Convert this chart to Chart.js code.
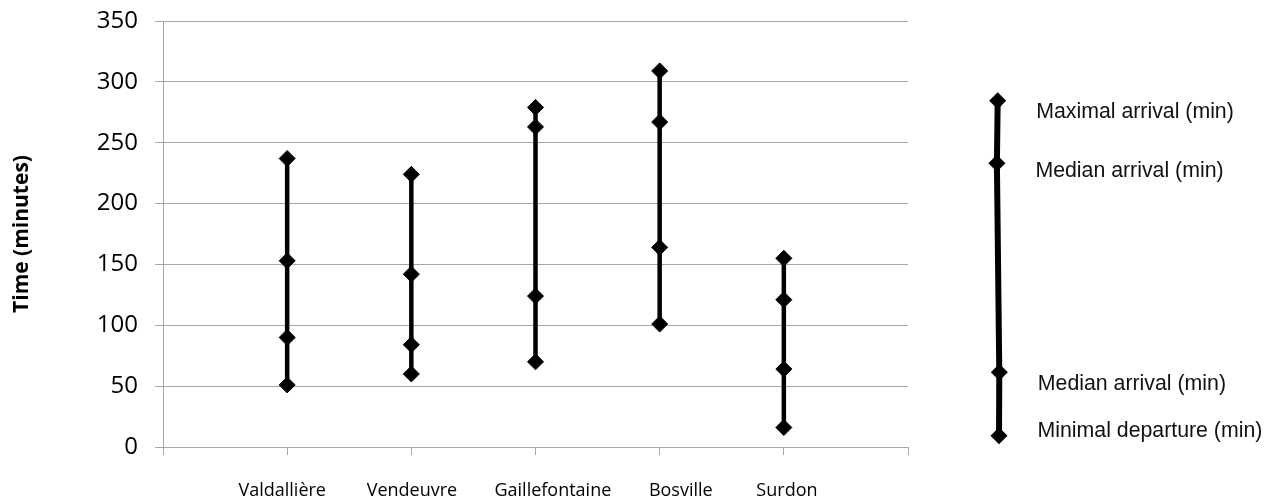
<!DOCTYPE html>
<html>
<head>
<meta charset="utf-8">
<script src="https://cdn.jsdelivr.net/npm/chart.js@4/dist/chart.umd.min.js"></script>
<style>
html,body{margin:0;padding:0;background:#fff;}
#wrap{width:1283px;height:504px;position:relative;}
canvas{display:block;}
</style>
</head>
<body>
<div id="wrap"><canvas id="c" width="1283" height="504"></canvas></div>
<script>
// ---- data ----
const categories = ['Valdallière', 'Vendeuvre', 'Gaillefontaine', 'Bosville', 'Surdon'];
const maximalArrival   = [237, 224, 279, 309, 155];
const medianArrivalA   = [153, 142, 263, 267, 121];
const medianArrivalB   = [90, 84, 124, 164, 64];
const minimalDeparture = [51, 60, 70, 101, 16];
const seriesNames = ['Maximal arrival (min)', 'Median arrival (min)', 'Median arrival (min)', 'Minimal departure (min)'];
const yTickValues = [0, 50, 100, 150, 200, 250, 300, 350];
const yTitle = 'Time (minutes)';

// ---- layout / style (not data) ----
const GRID = '#a6a6a6';
const LABEL_POS = [0.96, 2.005, 3.14, 4.17, 5.025]; // category label placement on x axis
const series = [maximalArrival, medianArrivalA, medianArrivalB, minimalDeparture];

const datasets = categories.map((name, i) => ({
  label: name,
  data: series.map(s => ({ x: i + 1, y: s[i] })),
  borderColor: '#000',
  backgroundColor: '#000',
  borderWidth: 4.5,
  pointStyle: 'rectRot',
  pointRadius: 8,
  pointBorderWidth: 1,
  pointBackgroundColor: '#000',
  pointBorderColor: '#000',
  showLine: true,
  tension: 0
}));

const customLegend = {
  id: 'customLegend',
  afterDraw(chart) {
    const ctx = chart.ctx;
    const pts = [[997.7, 100.7], [996.9, 163.3], [999.3, 372.3], [999.0, 435.7]];
    const base = [117.7, 176.5, 390, 437];
    ctx.save();
    ctx.strokeStyle = '#000';
    ctx.lineWidth = 6;
    ctx.beginPath();
    ctx.moveTo(pts[0][0], pts[0][1]);
    for (let k = 1; k < pts.length; k++) ctx.lineTo(pts[k][0], pts[k][1]);
    ctx.stroke();
    ctx.fillStyle = '#000';
    pts.forEach(([x, y]) => {
      const r = 8.5;
      ctx.beginPath();
      ctx.moveTo(x, y - r); ctx.lineTo(x + r, y); ctx.lineTo(x, y + r); ctx.lineTo(x - r, y);
      ctx.closePath(); ctx.fill();
    });
    ctx.font = '21.3px "Liberation Sans", Arial, sans-serif';
    ctx.textBaseline = 'alphabetic';
    ctx.textAlign = 'left';
    ctx.fillStyle = '#111';
    seriesNames.forEach((t, k) => {
      ctx.fillText(t, pts[k][0] + 38.5, base[k]);
    });
    ctx.restore();
  }
};

new Chart(document.getElementById('c'), {
  type: 'line',
  data: { datasets },
  plugins: [customLegend],
  options: {
    responsive: false,
    animation: false,
    devicePixelRatio: 1,
    layout: { padding: { top: 21, right: 375, left: 0, bottom: 0 } },
    plugins: { legend: { display: false }, tooltip: { enabled: false } },
    scales: {
      x: {
        type: 'linear', position: 'bottom', min: 0, max: 6,
        afterBuildTicks: s => { s.ticks = [0, 1, 2, 3, 4, 5, 6].map(v => ({ value: v })); },
        ticks: { display: false },
        grid: { drawOnChartArea: false, drawTicks: true, tickLength: 8, color: GRID, lineWidth: 1 },
        border: { color: GRID, width: 1 },
        afterFit: s => { s.height = 8; s.paddingLeft = 0; s.paddingRight = 0; }
      },
      xl: {
        type: 'linear', position: 'bottom', min: 0, max: 6,
        afterBuildTicks: s => { s.ticks = LABEL_POS.map(v => ({ value: v })); },
        ticks: {
          autoSkip: false, maxRotation: 0, minRotation: 0, padding: 25,
          color: '#000', font: { family: '"Open Sans", sans-serif', size: 18 },
          callback: (v, i) => categories[i]
        },
        grid: { display: false, drawTicks: false },
        border: { display: false },
        afterFit: s => { s.height = 49; s.paddingLeft = 0; s.paddingRight = 0; }
      },
      y: {
        min: 0, max: 350,
        afterBuildTicks: s => { s.ticks = yTickValues.map(v => ({ value: v })); },
        ticks: { color: '#000', padding: 17, font: { family: '"Open Sans", sans-serif', size: 24 } },
        grid: { color: GRID, tickLength: 8, lineWidth: 1 },
        border: { color: GRID, width: 1 },
        title: {
          display: true, text: yTitle, color: '#000',
          font: { family: '"Open Sans", sans-serif', size: 21, weight: 'bold' },
          padding: { top: 9, bottom: 0 }
        },
        afterFit: s => { s.width = 163; s.paddingTop = 0; s.paddingBottom = 0; }
      }
    }
  }
});
</script>
</body>
</html>
